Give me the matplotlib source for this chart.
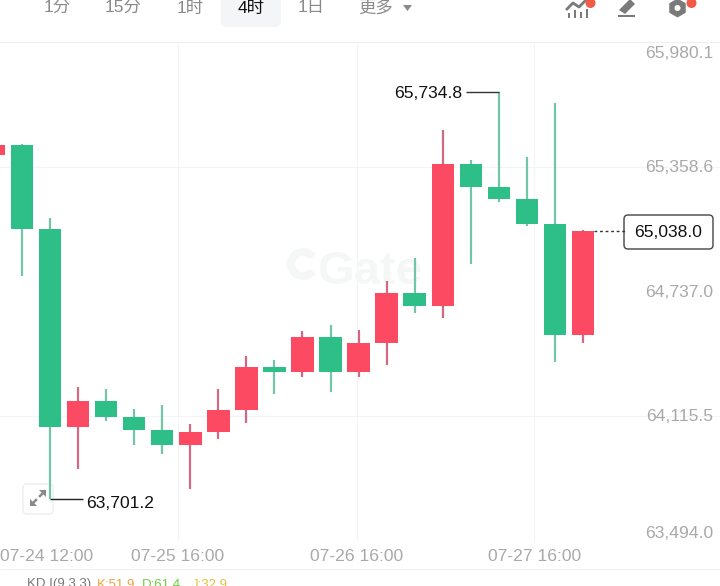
import matplotlib
matplotlib.use('Agg')
import matplotlib.pyplot as plt
from matplotlib.patches import FancyBboxPatch, Circle, Polygon, Rectangle, RegularPolygon, Wedge
import numpy as np

plt.rcParams['font.family'] = ['Liberation Sans', 'Noto Sans CJK SC', 'DejaVu Sans']

# 4h candles
candle_idx = np.arange(-1, 21)
opens = [65418.5, 65468.4, 65049.1, 64060.7, 64192.0, 64112.1, 64045.7, 63970.8, 64035.7, 64147.0, 64360.2,
         64335.2, 64511.4, 64335.2, 64478.5, 64731.1, 64664.7, 65372.1, 65257.3, 65197.4, 65074.1, 64519.9]
closes = [65468.4, 65049.1, 64060.7, 64192.0, 64112.1, 64045.7, 63970.8, 64035.7, 64147.0, 64360.2, 64335.2,
          64511.4, 64335.2, 64478.5, 64731.1, 64664.7, 65372.1, 65257.3, 65197.4, 65074.1, 64519.9, 65038.0]
highs = [65468.4, 65475.9, 65104.0, 64260.4, 64250.4, 64150.6, 64168.0, 64075.7, 64250.4, 64415.1, 64395.1,
         64541.4, 64571.4, 64544.9, 64791.0, 64904.3, 65543.3, 65393.5, 65734.8, 65410.0, 65679.6, 65044.1]
lows = [65418.5, 64814.5, 63701.2, 63852.6, 64092.1, 63972.3, 63925.9, 63751.2, 64000.8, 64083.1, 64225.4,
        64311.8, 64235.4, 64311.8, 64371.7, 64631.3, 64604.8, 64872.9, 65183.9, 65064.1, 64385.2, 64480.0]

price_ticks = [65980.1, 65358.6, 64737.0, 64115.5, 63494.0]
grid_prices = [65358.6, 64115.5]
time_ticks = [0.88, 5.55, 11.94, 18.27]
time_labels = ['07-24 12:00', '07-25 16:00', '07-26 16:00', '07-27 16:00']
tabs = ['1分', '15分', '1时', '4时', '1日', '更多']
tab_x = [57, 123, 190, 251, 311, 376]

RED = '#fb4a62'
GREEN = '#2ebf88'
RED_WICK = '#cf6a80'
GREEN_WICK = '#72c6a6'
GRID = '#f3f4f5'
GRAY = '#a9a9a9'
MARK = '#f5f6f6'

fig = plt.figure(figsize=(7.2, 5.86), dpi=100)
ax = fig.add_axes([0, 0, 1, 1], zorder=2)
ax.set_xlim(-0.784, 24.884)
ax.set_ylim(63266.9, 66192.3)
ax.axis('off')
ax.patch.set_alpha(0)

# pixel layer for the app chrome
ui = fig.add_axes([0, 0, 1, 1], zorder=1)
ui.set_xlim(0, 720)
ui.set_ylim(586, 0)
ui.axis('off')

# grid
ax.hlines(grid_prices, -0.784, 24.884, color=GRID, lw=0.8, zorder=1)
ax.vlines(time_ticks[1:], price_ticks[-1], price_ticks[0], color=GRID, lw=0.8, zorder=1)
ui.hlines(569, 0, 720, color='#eeeff0', lw=0.8)
ui.hlines(42, 0, 720, color='#eeeff0', lw=0.8)

# watermark
ax.text(12.4, 64835, 'Gate', fontsize=34, fontweight='bold', color=MARK, ha='center', va='center', zorder=1)
ui.add_patch(Wedge((303, 264), 16, 35, 325, width=8, fc=MARK, ec='none', zorder=1))

# candles
for i, o, c, h, l in zip(candle_idx, opens, closes, highs, lows):
    up = c > o
    ax.vlines(i, l, h, color=RED_WICK if up else GREEN_WICK, lw=1.6, zorder=2)
    ax.bar(i, abs(c - o), bottom=min(o, c), width=0.8, color=RED if up else GREEN, zorder=3)

# axis labels, the outer two sit just inside the plot range
label_y = {65980.1: 65925, 63494.0: 63530}
for p in price_ticks:
    ax.text(24.63, label_y.get(p, p - 4), f'{p:,.1f}', color=GRAY, fontsize=12.6, ha='right', va='center', zorder=4)
for t, lab in zip(time_ticks, time_labels):
    ax.text(t, 63415, lab, color=GRAY, fontsize=12.6, ha='center', va='center', zorder=4)

# high / low callouts
hi = max(highs)
lo = min(lows)
hi_i = highs.index(hi) - 1
lo_i = lows.index(lo) - 1
ax.hlines(hi, hi_i - 1.18, hi_i, color='#333333', lw=1, zorder=4)
ax.text(hi_i - 1.32, hi - 8, f'{hi:,.1f}', ha='right', va='center', fontsize=12.6, color='#111111', zorder=5)
ax.hlines(lo, lo_i, lo_i + 1.18, color='#222222', lw=1, zorder=4)
ax.text(lo_i + 1.3, lo - 20, f'{lo:,.1f}', ha='left', va='center', fontsize=12.6, color='#111111', zorder=5)

# last price tag
last = closes[-1]
ax.hlines(last, 20.4, 21.5, color='#333333', lw=1, linestyles=(0, (2, 2)), zorder=4)
ax.text(23.05, last - 4, f'{last:,.1f}', fontsize=12.6, color='#111111', ha='center', va='center', zorder=6)
ui.add_patch(FancyBboxPatch((627, 218), 83, 28, boxstyle='round,pad=3,rounding_size=4', fc='white', ec='#444444', lw=1, zorder=1))

# top tabs
ui.add_patch(FancyBboxPatch((225, -10), 52, 33, boxstyle='round,pad=4,rounding_size=6', fc='#f3f5f6', ec='none', zorder=1))
for x, lab in zip(tab_x, tabs):
    ui.text(x, 7.5, lab, fontsize=12.5, color='#111111' if lab == '4时' else '#8a8a8a', ha='center', va='center', zorder=2)
ui.add_patch(Polygon([[403, 5], [412, 5], [407.5, 11]], fc='#8a8a8a', ec='none'))

# indicator icon
ui.plot([567, 573, 579, 587], [9, 3, 7, -1], color='#7a7a7a', lw=2)
for x, top in zip([569, 575, 581, 587], [13, 10, 12, 9]):
    ui.add_patch(Rectangle((x - 1, top), 2, 18 - top, fc='#7a7a7a', ec='none'))
ui.add_patch(Circle((590.5, 3), 5, fc='#f15b46', ec='none', zorder=3))
# pencil icon
ui.add_patch(Polygon([[619, 10], [630, -1], [635, 4], [625, 14]], fc='#7a7a7a', ec='none'))
ui.add_patch(Rectangle((618, 14.5), 17, 2.5, fc='#7a7a7a', ec='none'))
# gear icon
ui.add_patch(RegularPolygon((677.5, 8), 6, radius=9.5, fc='#7a7a7a', ec='none'))
ui.add_patch(Circle((677.5, 8), 3, fc='white', ec='none', zorder=2))
ui.add_patch(Circle((691.5, 3), 5, fc='#f15b46', ec='none', zorder=3))

# expand button
ui.add_patch(FancyBboxPatch((25, 486), 26, 26, boxstyle='round,pad=2,rounding_size=4', fc='white', ec='#eeeeee', lw=1, zorder=1))
ui.plot([33, 36], [503, 500], color='#8a8a8a', lw=1.8)
ui.plot([40, 43], [496, 493], color='#8a8a8a', lw=1.8)
ui.add_patch(Polygon([[30, 499], [30, 506], [37, 506]], fc='#8a8a8a', ec='none'))
ui.add_patch(Polygon([[39, 490], [46, 490], [46, 497]], fc='#8a8a8a', ec='none'))

# indicator legend along the bottom edge
for x, lab, col in [(27, 'KD I(9,3,3)', '#777777'), (97, 'K:51.9', '#eda33c'),
                    (142, 'D:61.4', '#6fcf3f'), (192, 'J:32.9', '#e5c23c')]:
    ui.text(x, 590.5, lab, fontsize=9.5, color=col, ha='left', va='bottom')

fig.savefig('out.png', dpi=100, facecolor='white')
